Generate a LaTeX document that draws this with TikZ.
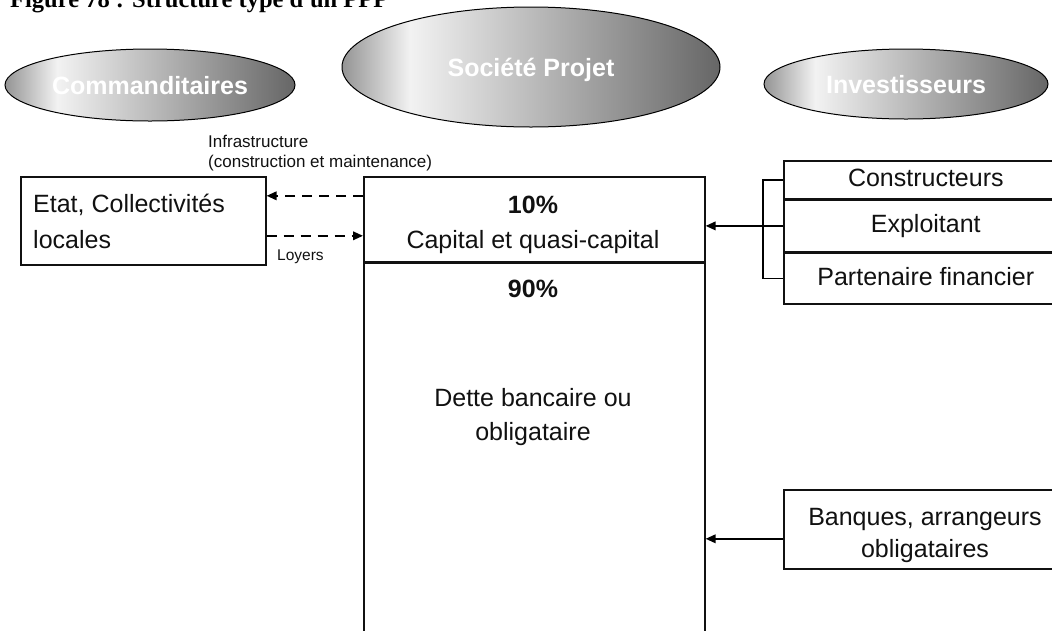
\documentclass[tikz,border=0pt]{standalone}
\usepackage{fontspec}
\setmainfont{Liberation Sans}
\newfontfamily\serifbold{Liberation Serif}
\usepackage{tikz}
\usetikzlibrary{arrows.meta,shapes.geometric}
\definecolor{ink}{HTML}{111111}
\pgfdeclarehorizontalshading{ovalshade}{100bp}{color(0bp)=(black!42); color(25bp)=(black!42); color(34bp)=(black!5); color(75bp)=(black!60); color(100bp)=(black!60)}
\tikzset{
  oval/.style={ellipse, draw=black, line width=1pt, shade, shading=ovalshade, inner sep=0pt,
    text=white, font=\fontsize{25}{30}\selectfont\bfseries, text height=18pt, text depth=0pt},
  box/.style={draw=ink, line width=1.6pt, inner sep=0pt, anchor=north west},
  row/.style={box, minimum width=284pt, font=\fontsize{25}{30}\selectfont, text=ink,
    text height=18pt, text depth=5pt},
  txt/.style={text=ink, font=\fontsize{25}{30}\selectfont, anchor=base, inner sep=0pt},
  btxt/.style={txt, font=\fontsize{25}{30}\selectfont\bfseries},
  small/.style={text=ink, font=\fontsize{17}{20}\selectfont, anchor=base west, inner sep=0pt},
  dline/.style={draw=black, line width=2pt, dash pattern=on 10pt off 7pt},
  cline/.style={draw=black, line width=1.9pt},
  tip/.style={-{Triangle[length=10pt,width=8.5pt]}}
}

\begin{document}
\begin{tikzpicture}[x=1pt, y=-1pt]
  \useasboundingbox (0,0) rectangle (1052,630);

  % caption, cut at the top edge
  \node[anchor=base west, inner sep=0pt, font=\serifbold\bfseries\fontsize{24.5}{28}\selectfont]
    (titre) at (10,7) {Figure 78 : Structure type d'un PPP};

  % the three actors
  \node[oval, minimum width=290pt, minimum height=72pt] (commanditaires) at (150,85) {Commanditaires};
  \node[oval, minimum width=378pt, minimum height=120pt] (societe) at (531,67) {Société Projet};
  \node[oval, minimum width=284pt, minimum height=70pt] (investisseurs) at (906,84) {Investisseurs};

  % public side
  \node[box, minimum width=245pt, minimum height=88pt] (etat) at (20,176) {};
  \node[txt, anchor=base west] (etat1) at (33,212) {Etat, Collectivités};
  \node[txt, anchor=base west] (etat2) at (33,248) {locales};

  % project company balance
  \node[box, minimum width=341pt, minimum height=85pt] (capital) at (363,176) {};
  \node[box, minimum width=341pt, minimum height=470pt] (dette) at (capital.south west) {};
  \node[btxt] (pcapital) at (533,213) {10\%};
  \node[txt] (capital1) at (533,248) {Capital et quasi-capital};
  \node[btxt] (pdette) at (533,297) {90\%};
  \node[txt] (dette1) at (533,406) {Dette bancaire ou};
  \node[txt] (dette2) at (533,440) {obligataire};

  % flows with the public side
  \draw[dline, tip] ([yshift=23.5pt]capital.west) -- ([yshift=23.5pt]capital.west -| etat.east);
  \draw[dline, tip] ([yshift=-16.5pt]capital.west -| etat.east) -- ([yshift=-16.5pt]capital.west);
  \node[small] (infra1) at (208,147) {Infrastructure};
  \node[small] (infra2) at (208,167) {(construction et maintenance)};
  \node[small, font=\fontsize{15.5}{18}\selectfont] (loyers) at (277,260) {Loyers};

  % equity holders
  \node[row, minimum height=38pt] (constructeurs) at (783,160) {Constructeurs};
  \node[row, minimum height=51pt] (exploitant) at (constructeurs.south west) {Exploitant};
  \node[row, minimum height=51pt] (partenaire) at (exploitant.south west) {Partenaire financier};
  \coordinate (bracket) at ([xshift=-20pt]exploitant.west);
  \draw[cline] (constructeurs.west) -| (bracket) |- (partenaire.west);
  \draw[cline, tip] (exploitant.west) -- (exploitant.west -| capital.east);

  % lenders
  \node[box, minimum width=284pt, minimum height=79pt] (banques) at (783,489) {};
  \node[txt] (banques1) at (925,525) {Banques, arrangeurs};
  \node[txt] (banques2) at (925,557) {obligataires};
  \draw[cline, tip] ([yshift=-9.5pt]banques.west) -- ([yshift=-9.5pt]banques.west -| dette.east);
\end{tikzpicture}
\end{document}
